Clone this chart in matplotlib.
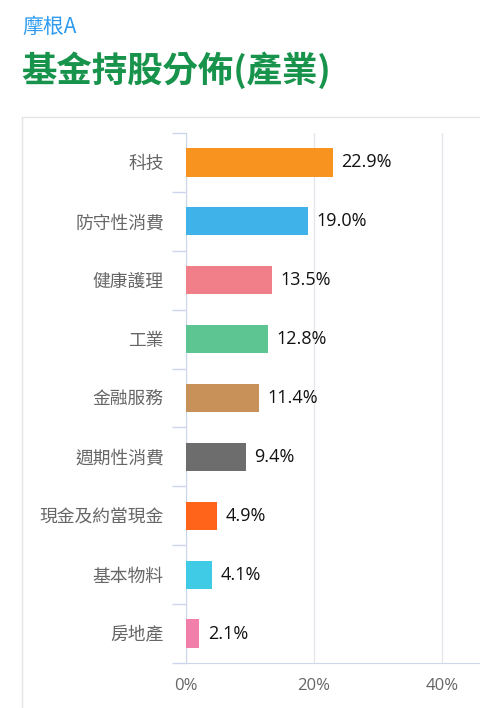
import matplotlib.pyplot as plt
from matplotlib.patches import Rectangle
import numpy as np

plt.rcParams["font.family"] = ["Noto Sans CJK TC", "DejaVu Sans"]

categories = ["科技", "防守性消費", "健康護理", "工業", "金融服務",
              "週期性消費", "現金及約當現金", "基本物料", "房地產"]
values = [22.9, 19.0, 13.5, 12.8, 11.4, 9.4, 4.9, 4.1, 2.1]
colors = ["#F7931E", "#3FB3E9", "#F17F89", "#5DC592", "#C9915A",
          "#6D6D6D", "#FF641A", "#3FCBE6", "#F27FAA"]
xticks = [0, 20, 40]

W, H = 481, 708
fig = plt.figure(figsize=(W / 100, H / 100), dpi=100)

# outer frame of the chart card
fig.add_artist(Rectangle((22 / W, -0.05), 1.2, 1 - 117 / H + 0.05,
                         transform=fig.transFigure, fill=False,
                         edgecolor="#e4e4e4", linewidth=1.0))

fig.text(22 / W, 1 - 27 / H, "摩根A", color="#2E9BF0", fontsize=15,
         va="center", ha="left")
fig.text(21 / W, 1 - 70 / H, "基金持股分佈(產業)", color="#17934B",
         fontsize=25.5, fontweight="bold", va="center", ha="left")

left, right = 186, 481
bottom, top = 663, 133
ax = fig.add_axes([left / W, 1 - bottom / H, (right - left) / W, (bottom - top) / H])

y = np.arange(len(categories))
ax.barh(y, values, height=0.48, color=colors, zorder=3)
ax.set_ylim(len(categories) - 0.5, -0.5)
ax.set_xlim(0, (right - left) / 6.4)

for yi, v in zip(y, values):
    ax.text(v + 1.3, yi, f"{v:.1f}%", va="center", ha="left",
            fontsize=13, color="#111111", zorder=4,
            family=["Open Sans", "DejaVu Sans"])

ax.set_yticks(y)
ax.set_yticklabels(categories, fontsize=12.8, color="#666666")
ax.tick_params(axis="y", which="major", length=0, pad=16)
ax.set_yticks(np.arange(-0.5, len(categories)), minor=True)
ax.tick_params(axis="y", which="minor", length=10, color="#ccd6eb", width=1)

ax.set_xticks(xticks)
ax.set_xticklabels([f"{t}%" for t in xticks], fontsize=12, color="#666666",
                   family=["Open Sans", "DejaVu Sans"])
ax.tick_params(axis="x", length=0, pad=11)

ax.grid(axis="x", color="#e6e6ee", linewidth=1, zorder=0)
for s in ["top", "right"]:
    ax.spines[s].set_visible(False)
ax.spines["left"].set_color("#ccd6eb")
ax.spines["bottom"].set_color("#ccd6eb")

fig.savefig("out.png", dpi=100)
